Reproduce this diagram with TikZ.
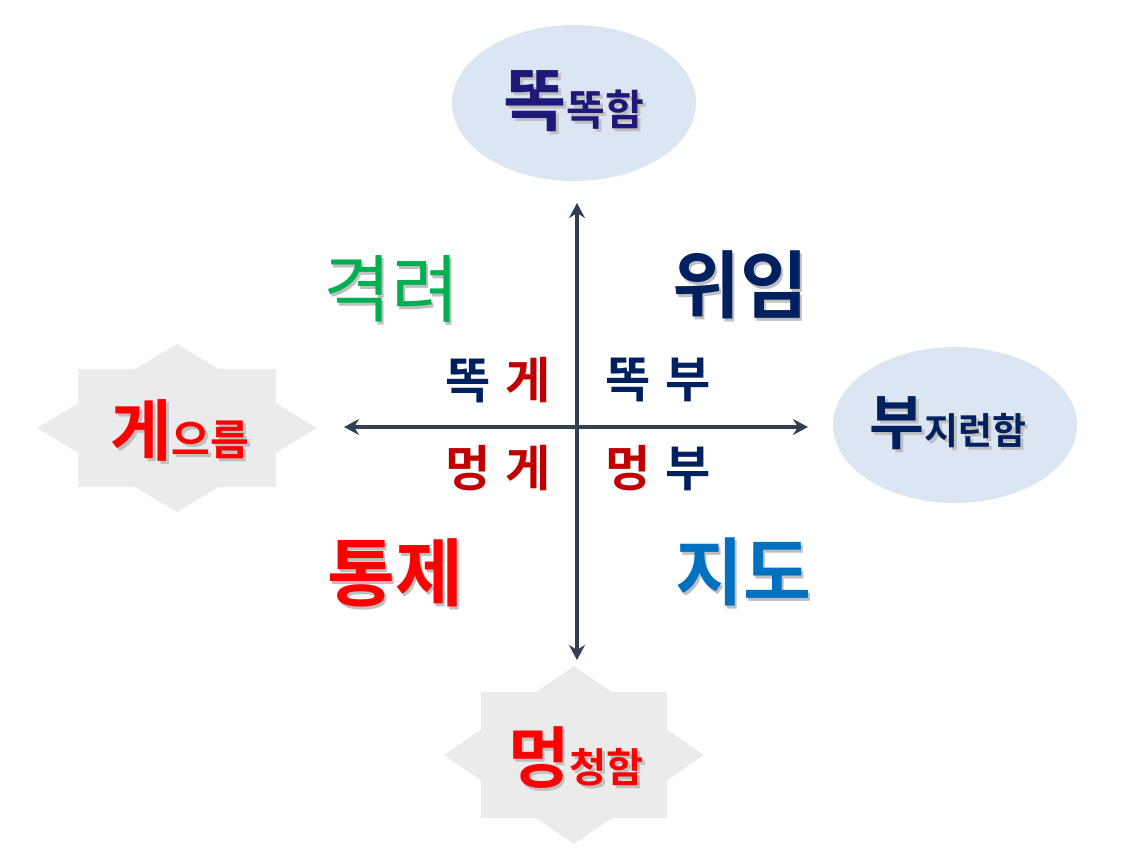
\documentclass[tikz,border=0pt]{standalone}
\usepackage{fontspec}
\setmainfont{Noto Sans CJK KR}[BoldFont={Noto Sans CJK KR Bold}]
\usepackage{xcolor}
\usepackage{tikz}
\usetikzlibrary{shapes.geometric,arrows.meta,positioning}

\definecolor{ovalblue}{RGB}{220,230,242}
\definecolor{stargray}{RGB}{235,235,235}
\definecolor{axisgray}{RGB}{51,63,80}
\definecolor{smartnavy}{RGB}{30,24,120}
\definecolor{navy}{RGB}{0,32,96}
\definecolor{darkred}{RGB}{192,0,0}
\definecolor{brightred}{RGB}{255,0,0}
\definecolor{leafgreen}{RGB}{0,176,80}
\definecolor{skyblue}{RGB}{0,112,192}

% text with a soft drop shadow
\newcommand{\shtxt}[2]{\rlap{\kern1.6pt\raisebox{-1.6pt}{\textcolor{black!25}{#2}}}\textcolor{#1}{#2}}

\begin{document}
\begin{tikzpicture}[
    x=0.02cm, y=-0.02cm,
    oval/.style={ellipse, fill=ovalblue, inner sep=0pt, minimum width=4.88cm, minimum height=3.12cm, font=\bfseries},
    cornerword/.style={inner sep=0pt, font=\fontsize{28}{30}\selectfont\bfseries},
    quadword/.style={inner sep=0pt, font=\fontsize{42}{45}\selectfont\bfseries},
    axis/.style={{Stealth[length=8.5pt,width=9pt]}-{Stealth[length=8.5pt,width=9pt]}, line width=2.3pt, draw=axisgray}
]
    \fill [white] (0,0) rectangle (1146,860);

    % star backgrounds
    \foreach \cx/\cy/\rw/\rh/\dw/\dh in {177/428/99/59/140/84, 574/755/93/63/130/89} {
        \fill [stargray] (\cx-\rw,\cy-\rh) rectangle (\cx+\rw,\cy+\rh);
        \fill [stargray] (\cx-\dw,\cy) -- (\cx,\cy-\dh) -- (\cx+\dw,\cy) -- (\cx,\cy+\dh) -- cycle;
    }

    \node [oval] (smart) at (574,103) {\shtxt{smartnavy}{\fontsize{39}{41}\selectfont 똑}\shtxt{smartnavy}{\fontsize{24}{26}\selectfont 똑함}};
    \node [oval] (diligent) at (955,425) {\shtxt{navy}{\fontsize{34}{36}\selectfont 부}\shtxt{navy}{\fontsize{21}{23}\selectfont 지런함}\kern8pt};
    \node [inner sep=0pt, font=\bfseries] (lazy) at (180,432) {\shtxt{brightred}{\fontsize{38}{40}\selectfont 게}\shtxt{brightred}{\fontsize{24}{26}\selectfont 으름}};
    \node [inner sep=0pt, font=\bfseries] (dull) at (576,759) {\shtxt{brightred}{\fontsize{38}{40}\selectfont 멍}\shtxt{brightred}{\fontsize{23}{25}\selectfont 청함}};

    % axes
    \coordinate (ytop) at (577,203);
    \coordinate (ybot) at (577,660);
    \coordinate (xleft) at (344,427);
    \coordinate (xright) at (808,427);
    \draw [axis] (ybot) -- (ytop);
    \draw [axis] (xleft) -- (xright);

    \node [quadword, font=\fontsize{42}{45}\selectfont] (encourage) at (391,290) {\shtxt{leafgreen}{격려}};
    \node [quadword] (delegate) at (740,286) {\shtxt{navy}{위임}};
    \node [quadword] (control) at (395,574) {\shtxt{brightred}{통제}};
    \node [quadword] (coach) at (743,573) {\shtxt{skyblue}{지도}};

    \node [cornerword] (sg) at (498,380) {\textcolor{navy}{똑}\hspace{8pt}\textcolor{darkred}{게}};
    \node [cornerword] (sb) at (658,380) {\textcolor{navy}{똑}\hspace{8pt}\textcolor{navy}{부}};
    \node [cornerword] (mg) at (498,468) {\textcolor{darkred}{멍}\hspace{8pt}\textcolor{darkred}{게}};
    \node [cornerword] (mb) at (658,468) {\textcolor{darkred}{멍}\hspace{8pt}\textcolor{navy}{부}};
\end{tikzpicture}
\end{document}
